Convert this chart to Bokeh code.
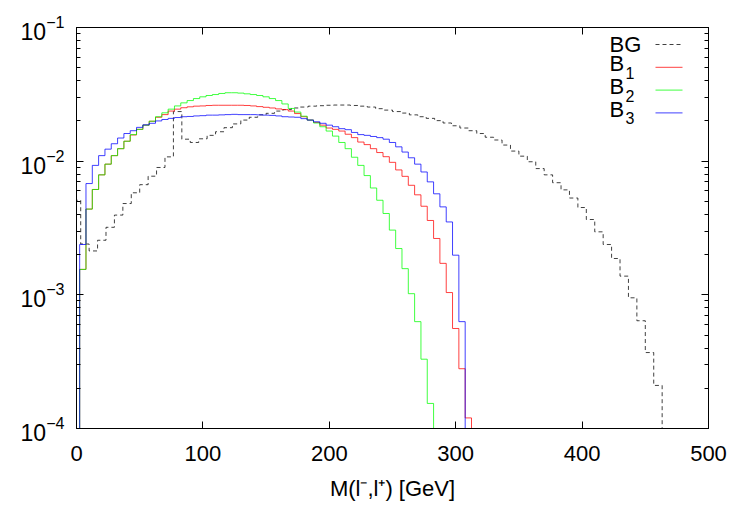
import numpy as np
from bokeh.plotting import figure
from bokeh.models import Range1d, LinearAxis, LogAxis, FixedTicker, Label, Arrow, LogTickFormatter, CustomJSTickFormatter
from bokeh.embed import file_html
from bokeh.resources import INLINE

# ---------------- data ----------------
SIG_BIN_WIDTH = 5.0            # GeV, signal histograms
SIG_FIRST_CENTER = 5.0         # first non-empty signal bin centre
BG_BIN_WIDTH = 500.0 / 75      # GeV, background histogram
BG_FIRST_CENTER = 0.0

bg = [0.0051, 0.0024, 0.00213, 0.00256, 0.0032, 0.00395, 0.00482, 0.0058, 0.00667, 0.00772,
      0.00897, 0.01077, 0.0235, 0.0146, 0.0138, 0.0147, 0.0156, 0.0166, 0.0178, 0.0190,
      0.0203, 0.0213, 0.0222, 0.0228, 0.0237, 0.0243, 0.0250, 0.0254, 0.0258, 0.0260,
      0.0262, 0.0263, 0.0263, 0.0261, 0.0258, 0.0254, 0.0247, 0.0241, 0.0235, 0.0229,
      0.0222, 0.0215, 0.0209, 0.0201, 0.0193, 0.0184, 0.0177, 0.0169, 0.0161, 0.0151,
      0.0144, 0.0132, 0.0119, 0.0109, 0.0099, 0.0088, 0.0079, 0.0069, 0.0061, 0.0053,
      0.0045, 0.00366, 0.00296, 0.00238, 0.00187, 0.00138, 0.00095, 0.00064, 0.00037, 0.00021]

b1 = [0.00155, 0.00438, 0.00614, 0.0079, 0.0095, 0.0110, 0.0124, 0.0141, 0.0157, 0.0173,
      0.0186, 0.0199, 0.0213, 0.0223, 0.0237, 0.0245, 0.0251, 0.0255, 0.0258, 0.0259,
      0.0261, 0.0262, 0.0262, 0.0262, 0.0262, 0.0262, 0.0261, 0.0259, 0.0256, 0.0253,
      0.0250, 0.0246, 0.0243, 0.0237, 0.0227, 0.0215, 0.0203, 0.0195, 0.0186, 0.0177,
      0.0173, 0.0168, 0.0159, 0.0150, 0.0139, 0.0133, 0.0124, 0.0116, 0.0108, 0.0098,
      0.0086, 0.0077, 0.0066, 0.0056, 0.0046, 0.0036, 0.00264, 0.00172, 0.00104, 0.00056,
      0.00028, 0.00012]

b2 = [0.00155, 0.00438, 0.00614, 0.0079, 0.0095, 0.0110, 0.0124, 0.0141, 0.0158, 0.0173,
      0.0186, 0.0199, 0.0215, 0.0230, 0.0245, 0.0259, 0.0273, 0.0284, 0.0294, 0.0303,
      0.0310, 0.0315, 0.0321, 0.0325, 0.0325, 0.0323, 0.0319, 0.0315, 0.0310, 0.0303,
      0.0294, 0.0284, 0.0268, 0.0248, 0.0233, 0.0217, 0.0203, 0.0193, 0.0181, 0.0168,
      0.0154, 0.0138, 0.0124, 0.0107, 0.0093, 0.0078, 0.0063, 0.0051, 0.00406, 0.00305,
      0.00222, 0.00157, 0.00102, 0.00063, 0.00033, 0.000154]

b3 = [0.00238, 0.0068, 0.0093, 0.0110, 0.0123, 0.0135, 0.0149, 0.0161, 0.0169, 0.0179,
      0.0187, 0.0192, 0.0200, 0.0205, 0.0209, 0.0212, 0.0215, 0.0216, 0.0218, 0.0219,
      0.0221, 0.0221, 0.0222, 0.0223, 0.0224, 0.0223, 0.0223, 0.0223, 0.0222, 0.0221,
      0.0220, 0.0218, 0.0215, 0.0214, 0.0213, 0.0208, 0.0203, 0.0197, 0.0192, 0.0186,
      0.0181, 0.0175, 0.0172, 0.0164, 0.0158, 0.0156, 0.0153, 0.0150, 0.0146, 0.0138,
      0.0128, 0.0117, 0.0106, 0.0095, 0.0083, 0.0070, 0.0057, 0.00455, 0.00351, 0.00198,
      0.00063]

x_ticks = [0, 100, 200, 300, 400, 500]
y_ticks = [1e-4, 1e-3, 1e-2, 1e-1]
x_label = "M(l\u207b,l\u207a) [GeV]"
legend_names = [("BG", ""), ("B", "1"), ("B", "2"), ("B", "3")]

# ---------------- helpers ----------------
FLOOR = 1e-6  # below the visible range: histogram edges drop off the frame


def step_xy(first_center, width, vals):
    vals = np.asarray(vals, dtype=float)
    n = len(vals)
    left = first_center - width / 2 + np.arange(n) * width
    right = left + width
    xs = np.empty(2 * n + 2)
    ys = np.empty(2 * n + 2)
    xs[0], ys[0] = left[0], FLOOR
    xs[1:-1:2], xs[2:-1:2] = left, right
    ys[1:-1:2], ys[2:-1:2] = vals, vals
    xs[-1], ys[-1] = right[-1], FLOOR
    return xs, ys


FONT = "Liberation Sans"
FS = "22px"

p = figure(width=750, height=525, x_range=Range1d(0, 500), y_range=Range1d(1e-4, 1e-1),
           y_axis_type="log", output_backend="svg", toolbar_location=None,
           min_border_left=76, min_border_right=42, min_border_top=27, min_border_bottom=97)
p.xgrid.visible = False
p.ygrid.visible = False
p.outline_line_color = "black"
p.outline_line_width = 1
p.outline_line_alpha = 1
p.background_fill_color = "white"
p.border_fill_color = "white"

series = [
    (BG_FIRST_CENTER, BG_BIN_WIDTH, bg, "black", "4 3"),
    (SIG_FIRST_CENTER, SIG_BIN_WIDTH, b1, "#ff0000", "solid"),
    (SIG_FIRST_CENTER, SIG_BIN_WIDTH, b2, "#00ff00", "solid"),
    (SIG_FIRST_CENTER, SIG_BIN_WIDTH, b3, "#0000ff", "solid"),
]
for c0, w, vals, col, dash in series:
    xs, ys = step_xy(c0, w, vals)
    p.line(xs, ys, line_color=col, line_width=1, line_dash=dash, line_alpha=0.75)

minor = [m * 10.0 ** e for e in (-4, -3, -2) for m in range(2, 10)]

xa = p.xaxis[0]
xa.ticker = FixedTicker(ticks=x_ticks)
ya = p.yaxis[0]
ya.ticker = FixedTicker(ticks=y_ticks, minor_ticks=minor)
ya.formatter = LogTickFormatter()

for ax in (xa, ya):
    ax.major_tick_in = 7
    ax.major_tick_out = 0
    ax.minor_tick_in = 4
    ax.minor_tick_out = 0
    ax.axis_line_color = "black"
    ax.major_tick_line_color = "black"
    ax.minor_tick_line_color = "black"
    ax.major_label_text_font = FONT
    ax.major_label_text_font_size = FS
    ax.major_label_text_color = "black"
ya.major_label_text_font_size = "23px"
xa.minor_tick_line_color = None
xa.major_label_standoff = 17
ya.major_label_standoff = 12
xa.axis_label = x_label
xa.axis_label_text_font = FONT
xa.axis_label_text_font_size = FS
xa.axis_label_text_font_style = "normal"
xa.axis_label_text_color = "black"
xa.axis_label_standoff = 12

blank = CustomJSTickFormatter(code="return ''")
top = LinearAxis(ticker=FixedTicker(ticks=x_ticks), formatter=blank,
                 major_tick_in=7, major_tick_out=0, minor_tick_line_color=None,
                 axis_line_color="black", major_label_standoff=0)
right = LogAxis(ticker=FixedTicker(ticks=y_ticks, minor_ticks=minor), formatter=blank,
                major_tick_in=7, major_tick_out=0, minor_tick_in=4, minor_tick_out=0,
                axis_line_color="black", major_label_standoff=0)
p.add_layout(top, "above")
p.add_layout(right, "right")

# ---------------- legend (text left, sample right) ----------------
leg_x_text = 533      # screen units, relative to the frame's left edge
leg_x0, leg_x1 = 579, 606
leg_y0 = 384          # first row, screen units from frame bottom
leg_dy = 22.8
for i, ((base, sub), (_, _, _, col, dash)) in enumerate(zip(legend_names, series)):
    yline = leg_y0 - i * leg_dy
    ytext = yline + (0 if not sub else 3.5)
    p.add_layout(Label(x=leg_x_text, y=ytext, x_units="screen", y_units="screen", text=base,
                       text_font=FONT, text_font_size=FS, text_color="black",
                       text_align="left", text_baseline="middle"))
    if sub:
        p.add_layout(Label(x=leg_x_text + 16, y=ytext - 9, x_units="screen", y_units="screen",
                           text=sub, text_font=FONT, text_font_size="16px", text_color="black",
                           text_align="left", text_baseline="middle"))
    p.add_layout(Arrow(x_start=leg_x0, y_start=yline, x_end=leg_x1, y_end=yline,
                       start_units="screen", end_units="screen", start=None, end=None,
                       line_color=col, line_dash=dash, line_width=1, line_alpha=0.75))

open("out.html", "w").write(file_html(p, INLINE))
